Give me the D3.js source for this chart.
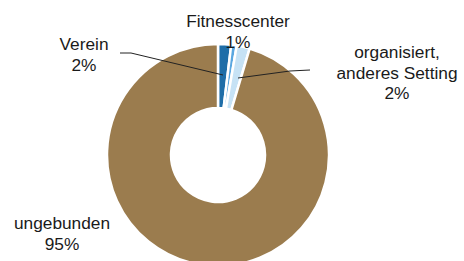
<!DOCTYPE html>
<html lang="de">
  <head>
    <meta charset="utf-8"/>
    <title>Setting</title>
    <script src="https://d3js.org/d3.v7.min.js"></script>
    <style>
      body { margin: 0; background: #fff; }
      svg { display: block; }
      text { font-family: "Liberation Sans", Arial, sans-serif; font-size: 17.3px; fill: #1a1a1a; }
    </style>
  </head>
  <body>
    <div id="chart"></div>
    <script>
    // data
    var categories = ["Verein", "Fitnesscenter", "organisiert, anderes Setting", "ungebunden"];
    var values = [1.9, 0.8, 1.9, 95.4];
    var colors = ["#1f6ea8", "#5aa7e0", "#c6e2f5", "#9b7c4e"];
    var labelLines = [["Verein"], ["Fitnesscenter"], ["organisiert,", "anderes Setting"], ["ungebunden"]];

    var width = 464, height = 261;
    var cx = 218, cy = 155;
    var outerR = 111, innerR = 47;

    var svg = d3.select("#chart").append("svg")
        .attr("width", width)
        .attr("height", height);

    var pie = d3.pie().sort(null).value(function(d) { return d; });
    var arc = d3.arc().innerRadius(innerR).outerRadius(outerR);

    var g = svg.append("g").attr("transform", "translate(" + cx + "," + cy + ")");

    g.selectAll("path")
      .data(pie(values))
      .enter().append("path")
        .attr("d", arc)
        .attr("fill", function(d, i) { return colors[i]; })
        .attr("stroke", "#fff")
        .attr("stroke-width", 2.5);

    // leader lines (only for Verein and organisiert)
    var lines = [
      [[120, 53], [131, 53], [223, 75]],
      [[310, 70], [290, 71], [238, 78]]
    ];
    svg.selectAll("path.leader")
      .data(lines)
      .enter().append("path")
        .attr("class", "leader")
        .attr("d", d3.line())
        .attr("fill", "none")
        .attr("stroke", "#222")
        .attr("stroke-width", 1);

    // label positions: center x, baseline of first line
    var labelPos = [[84, 50], [238, 27], [397, 58], [62, 229]];
    var lineH = 20.5;

    labelLines.forEach(function(lns, i) {
      var t = svg.append("text")
        .attr("text-anchor", "middle")
        .attr("x", labelPos[i][0])
        .attr("y", labelPos[i][1]);
      var all = lns.concat([Math.round(values[i]) + "%"]);
      all.forEach(function(s, j) {
        t.append("tspan")
          .attr("x", labelPos[i][0])
          .attr("dy", j === 0 ? 0 : lineH)
          .text(s);
      });
    });
    </script>
  </body>
</html>
